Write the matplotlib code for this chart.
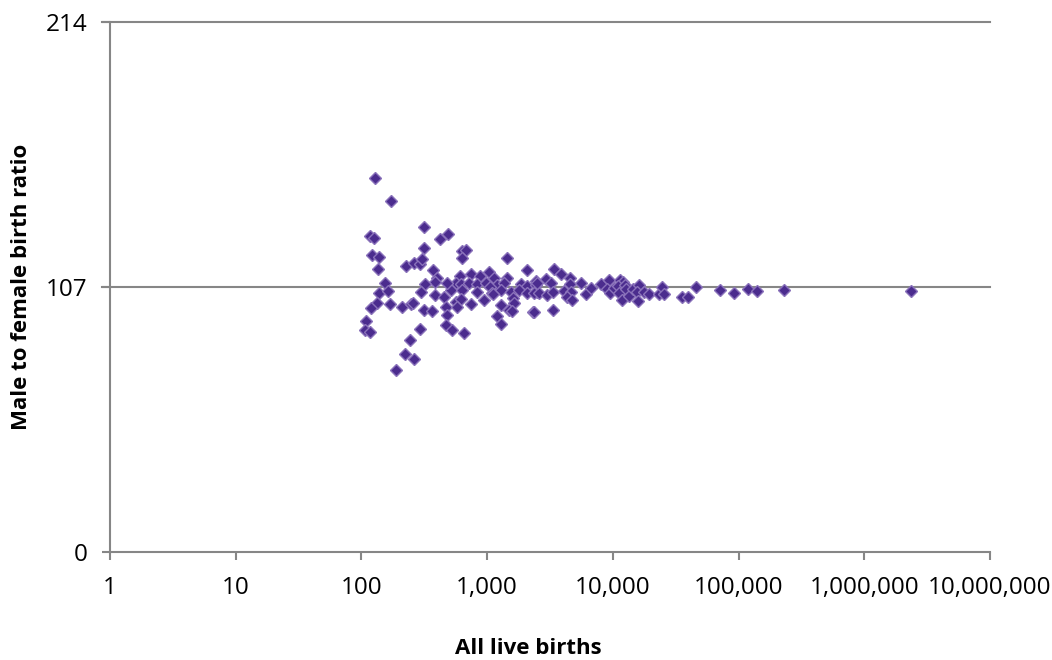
import numpy as np
import matplotlib
matplotlib.use('Agg')
import matplotlib.pyplot as plt
from matplotlib.ticker import FixedLocator, FuncFormatter, NullLocator

# data: number of live births and male:female ratio (x100)
births = [128, 173, 313, 116, 127, 421, 487, 313, 122, 139,
          135, 227, 261, 292, 305, 373, 396, 387, 154, 322,
          139, 162, 299, 382, 132, 120, 170, 211, 246, 257,
          313, 366, 108, 107, 117, 292, 243, 221, 261, 190,
          634, 674, 626, 1430, 2064, 604, 739, 871, 1033, 1132,
          1449, 2434, 561, 615, 716, 836, 973, 1205, 1361, 1849,
          2090, 512, 482, 634, 836, 1052, 1100, 1281, 1538, 1792,
          2090, 2513, 2434, 453, 561, 623, 739, 943, 1120, 1617,
          1636, 467, 579, 1281, 1492, 1567, 2334, 482, 1190, 1294,
          467, 526, 653,
          3406, 3900, 2924, 4571, 5560, 3206, 4571, 2360, 2588, 3020,
          3311, 4093, 4624, 6093, 6677, 4299, 4775, 2360, 3365, 2513,
          8017, 9350, 8910, 9520, 10240, 11430, 11940, 10900, 12470, 11220,
          12700, 11720, 13490, 14350, 16030, 15530, 15910, 17760, 19450, 23120,
          24570, 25340, 35280, 39810, 46130,
          71290, 91660, 119100, 139600, 230700, 2371000]
ratio = [151.1, 141.8, 131.1, 127.7, 126.9, 126.4, 128.4, 122.9, 120.0, 119.2,
         114.4, 115.5, 116.8, 116.4, 118.2, 113.9, 110.5, 108.9, 108.6, 108.2,
         104.7, 105.4, 105.0, 103.9, 100.4, 98.4, 100.1, 99.0, 100.1, 100.5,
         97.7, 97.4, 93.3, 89.6, 88.7, 89.9, 85.6, 79.8, 77.8, 73.5,
         121.7, 121.9, 118.7, 118.8, 113.7, 111.4, 112.1, 111.4, 113.2, 110.5,
         110.8, 109.5, 108.5, 108.2, 108.5, 108.2, 108.7, 107.8, 108.5, 108.1,
         107.4, 105.8, 108.5, 105.8, 105.1, 107.1, 104.5, 105.8, 105.1, 105.8,
         104.5, 105.1, 107.8, 103.1, 101.1, 102.0, 100.1, 101.8, 104.2, 102.4,
         100.4, 99.0, 99.0, 99.7, 97.7, 97.5, 97.1, 95.5, 95.2, 92.2,
         91.7, 89.6, 88.6,
         114.1, 112.3, 110.1, 110.5, 108.7, 108.5, 108.2, 104.7, 104.7, 103.8,
         105.1, 105.5, 105.1, 104.2, 106.5, 103.1, 101.8, 97.0, 97.7, 108.5,
         108.2, 109.8, 106.2, 104.5, 106.7, 109.8, 108.9, 107.5, 107.8, 104.5,
         106.2, 101.8, 103.5, 106.2, 107.8, 105.1, 101.3, 104.9, 104.1, 104.1,
         107.1, 104.1, 103.1, 102.8, 106.9,
         105.8, 104.7, 106.1, 105.3, 105.9, 105.5]

x_ticks = [1, 10, 100, 1000, 10000, 100000, 1000000, 10000000]
y_ticks = [0, 107, 214]

plt.rcParams['font.family'] = ['Open Sans', 'DejaVu Sans']
grey = '#868686'

fig = plt.figure(figsize=(10.52, 6.6), dpi=100)
ax = fig.add_axes([110/1052, 1-552/660, 880/1052, 530/660])

ax.plot(births, ratio, linestyle='none', marker='D', markersize=6.5,
        markerfacecolor='#4B2C8E', markeredgecolor='#8A72BA', markeredgewidth=1.0,
        zorder=3)

ax.set_xscale('log')
ax.set_xlim(1, 1e7)
ax.set_ylim(0, 214)
ax.xaxis.set_major_locator(FixedLocator(x_ticks))
ax.xaxis.set_minor_locator(NullLocator())
ax.xaxis.set_major_formatter(FuncFormatter(lambda v, p: f'{int(round(v)):,}'))
ax.yaxis.set_major_locator(FixedLocator(y_ticks))

for v in y_ticks[1:]:
    ax.axhline(v, xmin=-8/880, xmax=1, color=grey, lw=1.5, zorder=1, clip_on=False)

for s in ['top', 'right']:
    ax.spines[s].set_visible(False)
for s in ['left', 'bottom']:
    ax.spines[s].set_color(grey)
    ax.spines[s].set_linewidth(1.5)

ax.tick_params(axis='both', direction='out', length=6, width=1.5, color=grey,
               labelsize=17.5, labelcolor='black')
ax.tick_params(axis='x', pad=11)
ax.tick_params(axis='y', pad=10)

fig.text(528/1052, 1-649/660, 'All live births', ha='center', va='center',
         fontsize=16, fontweight='bold')
fig.text(22/1052, 1-287/660, 'Male to female birth ratio', ha='center', va='center',
         rotation=90, fontsize=16, fontweight='bold')

fig.savefig('out.png', dpi=100)
